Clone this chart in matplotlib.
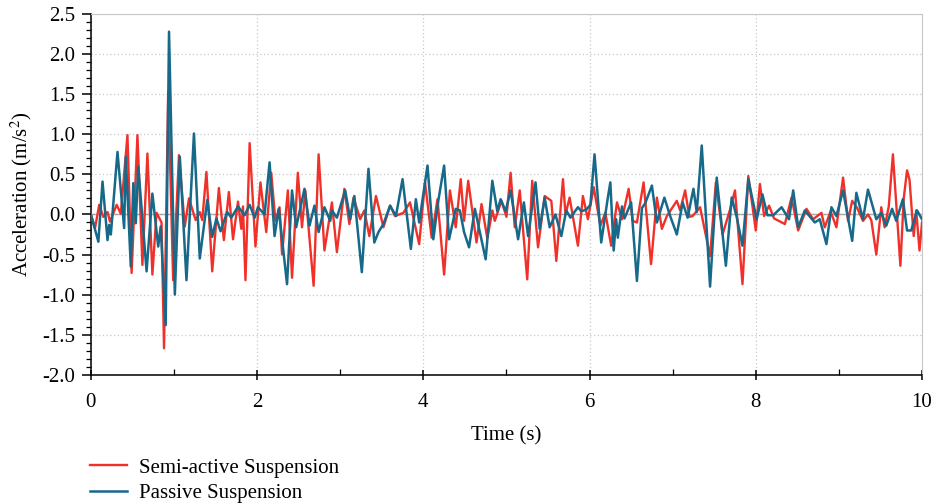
import matplotlib.pyplot as plt
from matplotlib.ticker import MultipleLocator

plt.rcParams.update({
    "font.family": ["Liberation Serif", "DejaVu Serif"],
    "mathtext.fontset": "stix",
})

# semi-active suspension (red): time (s), acceleration (m/s^2)
semi_t = [0.00, 0.05, 0.10, 0.15, 0.20, 0.23, 0.31, 0.36, 0.44, 0.49, 0.56, 0.62,
          0.68, 0.74, 0.79, 0.85, 0.88, 0.93, 0.99, 1.06, 1.13, 1.18, 1.26, 1.31,
          1.34, 1.39, 1.46, 1.54, 1.60, 1.66, 1.71, 1.77, 1.81, 1.83, 1.86, 1.91,
          1.98, 2.04, 2.11, 2.17, 2.22, 2.27, 2.30, 2.37, 2.42, 2.49, 2.54, 2.58,
          2.68, 2.74, 2.81, 2.90, 2.96, 3.05, 3.11, 3.16, 3.24, 3.29, 3.35, 3.43,
          3.52, 3.60, 3.66, 3.76, 3.84, 3.95, 4.02, 4.10, 4.17, 4.25, 4.32, 4.39,
          4.45, 4.49, 4.54, 4.64, 4.70, 4.77, 4.83, 4.86, 4.94, 5.00, 5.05, 5.10,
          5.16, 5.25, 5.31, 5.38, 5.46, 5.54, 5.60, 5.68, 5.71, 5.76, 5.86, 5.92,
          5.98, 6.05, 6.13, 6.19, 6.26, 6.33, 6.39, 6.47, 6.52, 6.57, 6.65, 6.74,
          6.81, 6.87, 6.93, 7.05, 7.09, 7.15, 7.20, 7.24, 7.33, 7.45, 7.52, 7.60,
          7.69, 7.75, 7.84, 7.91, 8.00, 8.05, 8.10, 8.16, 8.22, 8.35, 8.43, 8.51,
          8.61, 8.69, 8.79, 8.83, 8.90, 8.97, 9.05, 9.11, 9.16, 9.22, 9.29, 9.35,
          9.39, 9.45, 9.51, 9.55, 9.60, 9.65, 9.74, 9.78, 9.82, 9.85, 9.90, 9.93,
          9.97, 10.00]
semi_v = [0.00, -0.17, 0.12, -0.03, 0.03, -0.09, 0.12, 0.01, 0.99, -0.73, 0.99, -0.63,
          0.76, -0.75, 0.02, -0.10, -1.67, 1.53, -0.82, 0.74, -0.15, 0.20, -0.07, 0.03,
          -0.07, 0.53, -0.71, 0.33, -0.32, 0.28, -0.31, 0.16, -0.18, 0.10, -0.82, 0.89,
          -0.40, 0.40, -0.22, 0.52, -0.08, 0.09, -0.50, 0.30, -0.79, 0.52, -0.16, 0.30,
          -0.89, 0.75, -0.45, 0.15, -0.47, 0.32, -0.12, 0.21, -0.06, 0.05, -0.27, 0.23,
          -0.16, 0.11, -0.02, 0.02, 0.15, -0.37, 0.40, -0.29, 0.19, -0.75, 0.30, -0.16,
          0.44, -0.08, 0.42, -0.35, 0.13, -0.30, 0.05, -0.08, 0.17, -0.03, 0.52, -0.16,
          0.30, -0.81, 0.42, -0.41, 0.23, 0.17, -0.58, 0.44, 0.00, 0.21, -0.39, 0.23,
          -0.06, 0.34, -0.14, 0.02, -0.39, 0.15, -0.06, 0.32, -0.08, -0.10, 0.40, -0.62,
          0.21, -0.18, -0.02, 0.17, 0.05, 0.30, -0.03, -0.02, 0.09, -0.52, 0.40, -0.25,
          0.06, 0.30, -0.87, 0.48, -0.20, 0.38, -0.02, 0.11, -0.05, -0.12, 0.21, -0.20,
          0.07, -0.06, 0.02, -0.16, 0.04, -0.16, 0.46, -0.08, 0.17, 0.08, -0.08, 0.00,
          -0.07, -0.50, 0.09, -0.16, 0.10, 0.75, -0.64, 0.20, 0.55, 0.43, -0.27, 0.05,
          -0.45, -0.10]

# passive suspension (blue)
pass_t = [0.00, 0.09, 0.14, 0.20, 0.22, 0.24, 0.32, 0.40, 0.42, 0.48, 0.51, 0.54,
          0.57, 0.67, 0.74, 0.81, 0.84, 0.90, 0.94, 1.01, 1.07, 1.15, 1.24, 1.31,
          1.40, 1.46, 1.51, 1.56, 1.64, 1.69, 1.77, 1.85, 1.91, 1.97, 2.01, 2.09,
          2.15, 2.21, 2.26, 2.36, 2.42, 2.47, 2.57, 2.63, 2.69, 2.74, 2.81, 2.88,
          2.90, 2.96, 3.06, 3.12, 3.17, 3.26, 3.34, 3.41, 3.46, 3.52, 3.60, 3.67,
          3.75, 3.85, 3.91, 3.95, 4.05, 4.12, 4.18, 4.25, 4.31, 4.39, 4.44, 4.49,
          4.55, 4.62, 4.75, 4.83, 4.89, 4.93, 4.99, 5.05, 5.14, 5.21, 5.26, 5.35,
          5.40, 5.46, 5.52, 5.59, 5.66, 5.72, 5.77, 5.86, 5.90, 5.96, 6.01, 6.06,
          6.14, 6.22, 6.25, 6.29, 6.32, 6.34, 6.39, 6.42, 6.50, 6.57, 6.63, 6.67,
          6.75, 6.81, 6.90, 6.97, 7.05, 7.12, 7.18, 7.25, 7.29, 7.35, 7.45, 7.53,
          7.64, 7.71, 7.77, 7.84, 7.91, 8.01, 8.08, 8.14, 8.21, 8.31, 8.40, 8.45,
          8.51, 8.59, 8.71, 8.77, 8.85, 8.91, 8.97, 9.05, 9.16, 9.21, 9.29, 9.35,
          9.45, 9.51, 9.57, 9.64, 9.69, 9.77, 9.82, 9.87, 9.94, 10.00]
pass_v = [0.00, -0.34, 0.41, -0.32, -0.13, -0.25, 0.78, -0.17, 0.72, -0.65, 0.39, -0.11,
          0.60, -0.71, 0.26, -0.40, -0.15, -1.38, 2.28, -1.00, 0.72, -0.82, 1.01, -0.55,
          0.18, -0.28, -0.05, -0.21, 0.03, -0.04, 0.10, -0.01, 0.12, -0.04, 0.09, 0.00,
          0.65, -0.27, 0.07, -0.87, 0.30, -0.16, 0.32, -0.14, 0.11, -0.22, 0.09, -0.08,
          0.05, -0.04, 0.30, -0.06, 0.23, -0.72, 0.57, -0.35, -0.22, -0.12, 0.11, -0.02,
          0.44, -0.43, 0.19, -0.10, 0.61, -0.31, 0.17, 0.61, -0.31, 0.07, 0.05, -0.22,
          -0.41, 0.07, -0.56, 0.42, 0.04, 0.19, 0.04, 0.30, -0.31, 0.15, -0.27, 0.40,
          -0.18, 0.21, -0.16, 0.00, -0.27, 0.05, -0.04, 0.09, 0.04, 0.06, 0.12, 0.75,
          -0.35, 0.21, 0.40, -0.45, -0.06, -0.29, 0.10, -0.05, 0.15, -0.83, 0.08, 0.14,
          0.36, -0.10, 0.21, -0.02, -0.25, 0.15, -0.04, 0.32, 0.03, 0.86, -0.90, 0.46,
          -0.64, 0.21, -0.03, -0.39, 0.44, -0.06, 0.25, -0.01, -0.01, 0.09, -0.06, 0.30,
          -0.16, 0.05, -0.10, -0.06, -0.37, 0.09, -0.02, 0.30, -0.33, 0.27, -0.06, 0.31,
          -0.06, 0.02, -0.14, 0.07, -0.08, 0.19, -0.20, -0.20, 0.05, -0.06]

red = "#f0312a"
blue = "#17698a"

fig = plt.figure(figsize=(9.37, 5.03), dpi=100)
ax = fig.add_axes([0.097, 0.255, 0.887, 0.717])

ax.axhline(0, color="#9a9a9a", lw=1.0, zorder=1)
ax.plot(semi_t, semi_v, color=red, lw=1.7, solid_joinstyle="round",
        label="Semi-active Suspension", zorder=3)
ax.plot(pass_t, pass_v, color=blue, lw=1.8, solid_joinstyle="round",
        label="Passive Suspension", zorder=4)

ax.set_xlim(0, 10)
ax.set_ylim(-2.0, 2.5)
ax.xaxis.set_major_locator(MultipleLocator(2))
ax.xaxis.set_minor_locator(MultipleLocator(1))
ax.yaxis.set_major_locator(MultipleLocator(0.5))
ax.yaxis.set_minor_locator(MultipleLocator(0.1))
ax.yaxis.set_major_formatter(plt.FuncFormatter(lambda v, p: f"{v:.1f}"))

ax.grid(which="major", axis="both", color="#c8c8c8", ls=(0, (1, 2)), lw=0.9)
for s in ("top", "right"):
    ax.spines[s].set_color("#c8c8c8")
    ax.spines[s].set_linewidth(0.8)
for s in ("left", "bottom"):
    ax.spines[s].set_linewidth(1.1)

ax.tick_params(which="major", axis="y", length=6.5, width=1.1, labelsize=15, pad=5)
ax.tick_params(which="minor", axis="y", length=3.5, width=0.9)
ax.tick_params(which="major", axis="x", direction="inout", length=7, width=1.1, labelsize=15, pad=10)
ax.tick_params(which="minor", axis="x", direction="in", length=4, width=0.9)

ax.set_xlabel("Time (s)", fontsize=15, labelpad=10)
ax.set_ylabel("Acceleration (m/s$^2$)", fontsize=15, labelpad=6)

fig.legend(loc="upper left", bbox_to_anchor=(0.087, 0.106), frameon=False, fontsize=15,
           handlelength=1.8, handletextpad=0.55, labelspacing=0.3, borderaxespad=0)

fig.savefig("out.png", dpi=100)
